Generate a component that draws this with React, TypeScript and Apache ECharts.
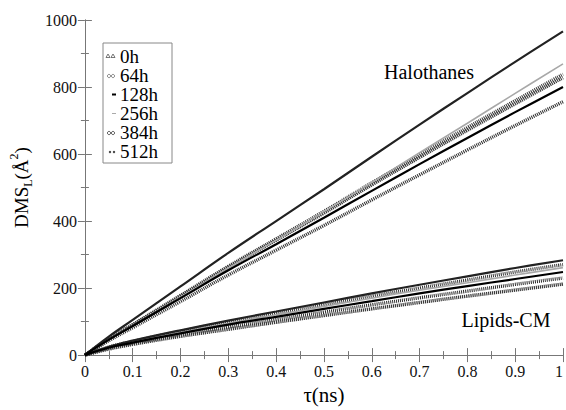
import React, { useEffect, useRef } from "react";
import * as echarts from "echarts";

const tau = [0, 0.05, 0.1, 0.2, 0.3, 0.4, 0.5, 0.6, 0.7, 0.8, 0.9, 1];

// Halothanes
const hal0h = [0, 55, 105, 205, 305, 400, 495, 592, 688, 782, 875, 966];
const hal64h = [0, 48, 91, 178, 265, 347, 429, 514, 597, 679, 759, 838];
const hal128h = [0, 46, 87, 170, 253, 331, 410, 490, 570, 648, 725, 800];
const hal256h = [0, 46, 88, 173, 260, 343, 428, 515, 604, 692, 781, 869];
const hal384h = [0, 43, 82, 160, 239, 313, 387, 463, 538, 612, 685, 756];
const hal512h = [0, 47, 90, 176, 262, 343, 424, 508, 590, 671, 750, 828];

// Lipids-CM
const lip0h = [0, 25, 43, 74, 103, 130, 157, 184, 210, 235, 260, 283];
const lip64h = [0, 24, 41, 71, 99, 124, 150, 176, 200, 224, 248, 270];
const lip128h = [0, 22, 37, 65, 91, 114, 138, 161, 184, 206, 227, 248];
const lip256h = [0, 23, 39, 68, 95, 120, 145, 170, 194, 216, 239, 261];
const lip384h = [0, 20, 35, 60, 84, 106, 128, 150, 171, 191, 211, 230];
const lip512h = [0, 18, 32, 56, 77, 98, 118, 138, 157, 176, 194, 212];

const legendNames = ["0h", "64h", "128h", "256h", "384h", "512h"];

const FONT = "Liberation Serif";

type Style = { color: string; width: number; type: any; z: number };
const styles: Record<string, Style> = {
  "0h": { color: "#222222", width: 2.2, type: "solid", z: 5 },
  "64h": { color: "#333333", width: 3.4, type: [1, 1], z: 2 },
  "128h": { color: "#000000", width: 2.2, type: "solid", z: 6 },
  "256h": { color: "#a8a8a8", width: 1.6, type: "solid", z: 4 },
  "384h": { color: "#2c2c2c", width: 3.4, type: [1, 1], z: 2 },
  "512h": { color: "#3a3a3a", width: 3.4, type: [1.2, 0.8], z: 3 },
};

const pairs = (vals: number[]) => tau.map((t, i) => [t, vals[i]]);

export default function App() {
  const ref = useRef<HTMLDivElement>(null);
  useEffect(() => {
    if (!ref.current) return;
    const chart = echarts.init(ref.current, undefined, { renderer: "svg" });

    const halSets: Record<string, number[]> = {
      "0h": hal0h, "64h": hal64h, "128h": hal128h, "256h": hal256h, "384h": hal384h, "512h": hal512h,
    };
    const lipSets: Record<string, number[]> = {
      "0h": lip0h, "64h": lip64h, "128h": lip128h, "256h": lip256h, "384h": lip384h, "512h": lip512h,
    };

    const series: any[] = [];
    legendNames.forEach((n) => {
      [halSets[n], lipSets[n]].forEach((vals) => {
        const s = styles[n];
        series.push({
          type: "line",
          name: n,
          data: pairs(vals),
          smooth: 0.4,
          symbol: "none",
          z: s.z,
          lineStyle: { color: s.color, width: s.width, type: s.type },
        });
      });
    });

    const axisLineStyle = { color: "#777", width: 1 };
    const xCommon = {
      type: "value",
      min: 0,
      max: 1,
      interval: 0.1,
      splitLine: { show: false },
      axisLine: { show: true, lineStyle: axisLineStyle },
      axisTick: { show: true, inside: true, length: 7, lineStyle: { color: "#777" } },
      minorTick: { show: true, splitNumber: 2, length: 4, lineStyle: { color: "#777" } },
    };
    const yCommon = {
      type: "value",
      min: 0,
      max: 1000,
      interval: 200,
      splitLine: { show: false },
      axisLine: { show: true, lineStyle: axisLineStyle },
      axisTick: { show: true, inside: true, length: 7, lineStyle: { color: "#777" } },
      minorTick: { show: true, splitNumber: 2, length: 4, lineStyle: { color: "#777" } },
    };

    const rowY = [56, 75, 94, 113, 132, 151];
    const graphics: any[] = [
      {
        type: "rect",
        z: 20,
        shape: { x: 103, y: 43, width: 69, height: 120 },
        style: { fill: "#fff", stroke: "#888", lineWidth: 1 },
      },
    ];
    legendNames.forEach((n, i) => {
      const y = rowY[i];
      graphics.push({
        type: "text",
        x: 120,
        y,
        z: 22,
        style: {
          text: n,
          fontFamily: FONT,
          fontSize: 19,
          fill: "#000",
          verticalAlign: "middle",
          align: "left",
        },
      });
      if (n === "0h") {
        [108, 113].forEach((cx) =>
          graphics.push({
            type: "polygon",
            z: 22,
            shape: { points: [[cx - 2, y + 1.5], [cx + 2, y + 1.5], [cx, y - 2]] },
            style: { fill: "none", stroke: "#555", lineWidth: 0.8 },
          })
        );
      } else if (n === "64h" || n === "384h") {
        [109, 113].forEach((cx) =>
          graphics.push({
            type: "circle",
            z: 22,
            shape: { cx, cy: y + 1, r: 1.6 },
            style: { fill: "none", stroke: n === "64h" ? "#777" : "#444", lineWidth: 0.9 },
          })
        );
      } else if (n === "128h") {
        graphics.push({
          type: "rect",
          z: 22,
          shape: { x: 112, y: y - 0.5, width: 4, height: 2 },
          style: { fill: "#000" },
        });
      } else if (n === "256h") {
        graphics.push({
          type: "rect",
          z: 22,
          shape: { x: 112, y: y, width: 4, height: 1 },
          style: { fill: "#aaa" },
        });
      } else {
        [110, 114].forEach((cx) =>
          graphics.push({
            type: "circle",
            z: 22,
            shape: { cx, cy: y + 1, r: 1.2 },
            style: { fill: "#444" },
          })
        );
      }
    });
    graphics.push({
      type: "text",
      x: 429,
      y: 72,
      z: 22,
      style: { text: "Halothanes", fontFamily: FONT, fontSize: 20, fill: "#000", align: "center", verticalAlign: "middle" },
    });
    graphics.push({
      type: "text",
      x: 506,
      y: 320,
      z: 22,
      style: { text: "Lipids-CM", fontFamily: FONT, fontSize: 20, fill: "#000", align: "center", verticalAlign: "middle" },
    });

    chart.setOption({
      animation: false,
      backgroundColor: "#fff",
      textStyle: { fontFamily: FONT },
      grid: { left: 80, right: 3, top: 20, bottom: 53, containLabel: false },
      xAxis: [
        {
          ...xCommon,
          position: "bottom",
          name: "τ(ns)",
          nameLocation: "middle",
          nameGap: 27,
          nameTextStyle: { fontFamily: FONT, fontSize: 21, color: "#000" },
          axisLabel: {
            fontFamily: FONT,
            fontSize: 16,
            color: "#111",
            margin: 8,
            alignMaxLabel: "right",
            formatter: (v: number) => String(Math.round(v * 10) / 10),
          },
        },
        { ...xCommon, position: "top", axisLabel: { show: false } },
      ],
      yAxis: [
        {
          ...yCommon,
          position: "left",
          name: "{a|DMS}{b|L}{a|(Å}{c|2}{a|)}",
          nameLocation: "middle",
          nameRotate: 90,
          nameGap: 50,
          nameTextStyle: {
            fontFamily: FONT,
            color: "#000",
            rich: {
              a: { fontFamily: FONT, fontSize: 19, color: "#000", lineHeight: 26, verticalAlign: "middle" },
              b: { fontFamily: FONT, fontSize: 12, color: "#000", lineHeight: 26, verticalAlign: "bottom" },
              c: { fontFamily: FONT, fontSize: 12, color: "#000", lineHeight: 26, verticalAlign: "top" },
            },
          },
          axisLabel: {
            fontFamily: FONT,
            fontSize: 16,
            color: "#111",
            margin: 8,
            formatter: (v: number) => String(v),
          },
        },
        { ...yCommon, position: "right", axisLabel: { show: false } },
      ],
      series,
      graphic: graphics,
    });
    return () => chart.dispose();
  }, []);
  return (
    <div
      ref={ref}
      style={{ position: "fixed", left: 0, top: 0, width: 566, height: 410 }}
    />
  );
}
